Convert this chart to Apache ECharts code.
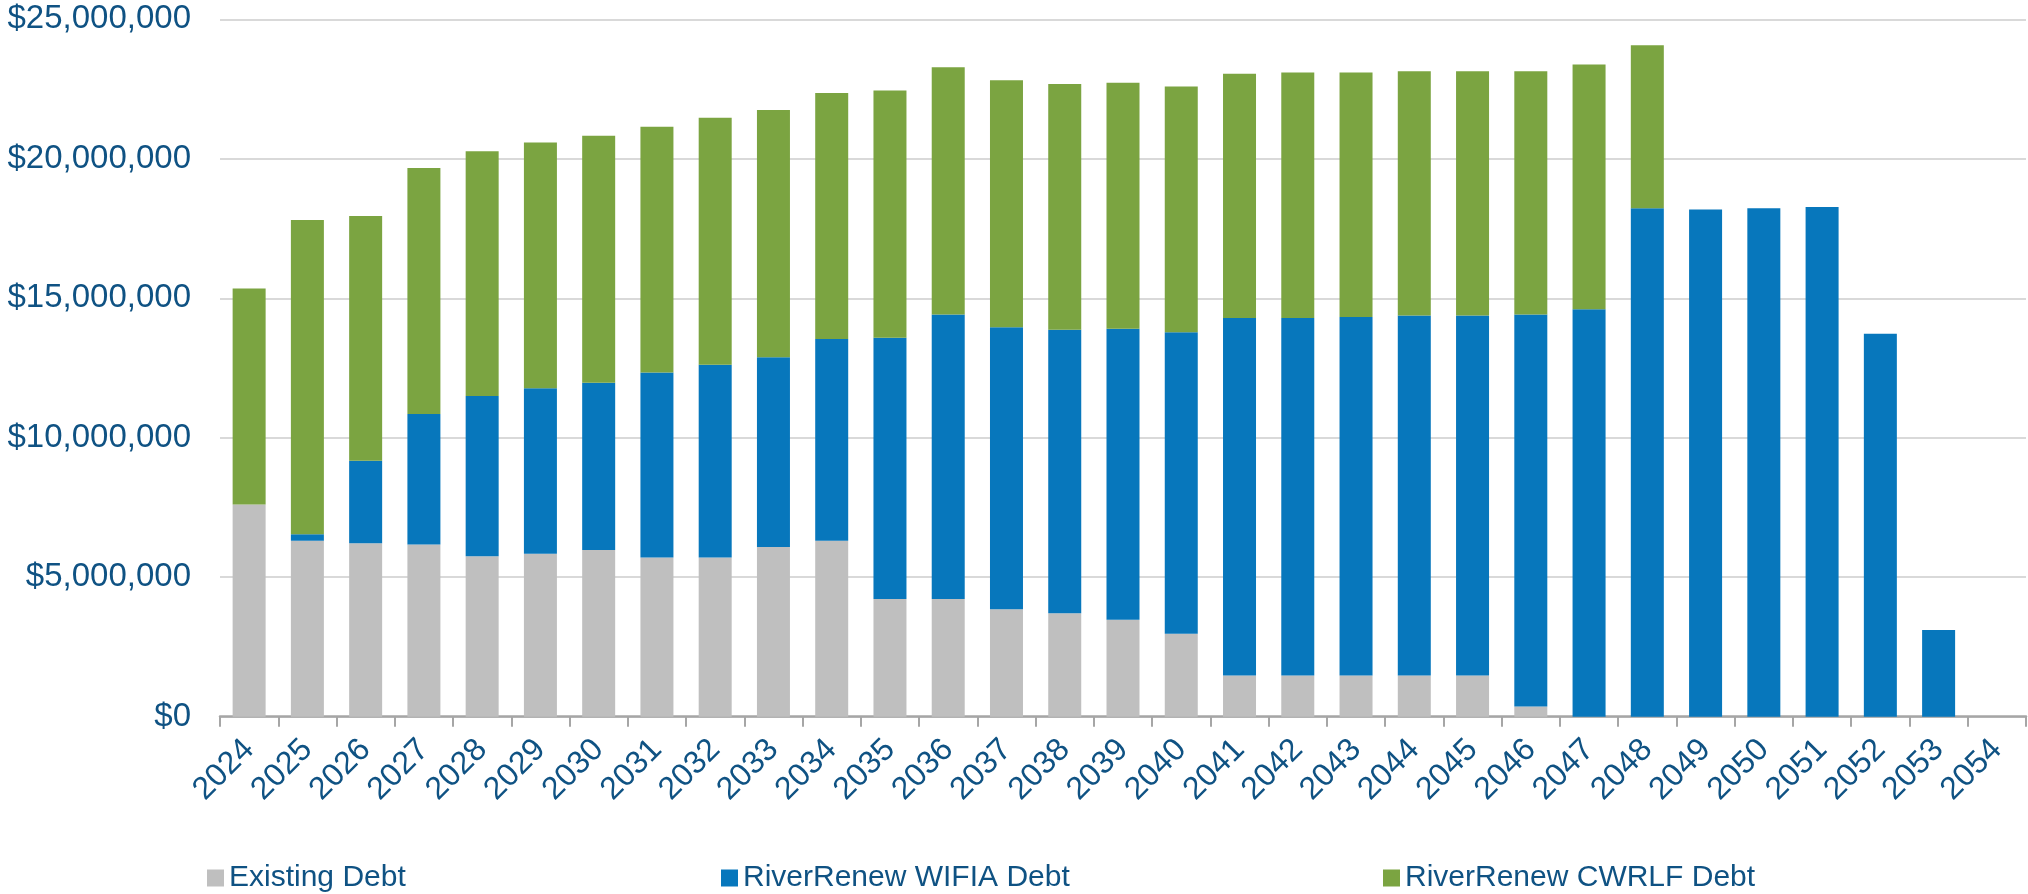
<!DOCTYPE html>
<html>
<head>
<meta charset="utf-8">
<script src="https://cdn.jsdelivr.net/npm/echarts@6/dist/echarts.min.js"></script>
<style>
  html, body { margin: 0; padding: 0; background: #fff; }
  #main { width: 2028px; height: 894px; }
</style>
</head>
<body>
<div id="main"></div>
<script>
// years on the x axis
const years = [
  "2024", "2025", "2026", "2027", "2028", "2029", "2030", "2031", "2032", "2033",
  "2034", "2035", "2036", "2037", "2038", "2039", "2040", "2041", "2042", "2043",
  "2044", "2045", "2046", "2047", "2048", "2049", "2050", "2051", "2052", "2053", "2054",
];

// debt service per year, dollars
const existingDebt = [
  7610000, 6310000, 6220000, 6170000, 5750000, 5840000, 5980000, 5710000, 5710000, 6080000,
  6310000, 4220000, 4220000, 3850000, 3710000, 3480000, 2970000, 1480000, 1480000, 1480000,
  1480000, 1480000, 370000, 0, 0, 0, 0, 0, 0, 0, 0,
];
const wifiaDebt = [
  0, 230000, 2960000, 4680000, 5750000, 5940000, 5990000, 6630000, 6910000, 6810000,
  7230000, 9370000, 10200000, 10110000, 10160000, 10430000, 10810000, 12810000, 12810000, 12850000,
  12900000, 12900000, 14050000, 14610000, 18230000, 18180000, 18230000, 18270000, 13730000, 3110000, 0,
];
const cwrlfDebt = [
  7740000, 11270000, 8770000, 8820000, 8770000, 8810000, 8860000, 8810000, 8850000, 8860000,
  8820000, 8860000, 8860000, 8860000, 8810000, 8820000, 8810000, 8760000, 8810000, 8770000,
  8760000, 8760000, 8720000, 8770000, 5840000, 0, 0, 0, 0, 0, 0,
];

const seriesNames = ["Existing Debt", "RiverRenew WIFIA Debt", "RiverRenew CWRLF Debt"];
const seriesColors = ["#bfbfbf", "#0777bc", "#7ba441"];
const textColor = "#0f5283";
const fontName = "Liberation Sans";

var chart = echarts.init(document.getElementById("main"));

function money(v) {
  return "$" + Math.round(v).toString().replace(/\B(?=(\d{3})+(?!\d))/g, ",");
}

const legendLefts = [202, 716, 1378];

var option = {
  backgroundColor: "#ffffff",
  animation: false,
  grid: { left: 220, right: 2, top: 19.4, bottom: 177.3, containLabel: false },
  legend: seriesNames.map((name, i) => ({
    data: [name],
    left: legendLefts[i],
    top: 858,
    icon: "rect",
    itemWidth: 17,
    itemHeight: 17,
    itemGap: 0,
    textStyle: { color: textColor, fontSize: 30, fontFamily: fontName },
  })),
  xAxis: {
    type: "category",
    data: years,
    axisLine: { lineStyle: { color: "#a6a6a6", width: 2.5 } },
    axisTick: { show: true, length: 10, lineStyle: { color: "#a6a6a6", width: 2 } },
    axisLabel: {
      rotate: 45,
      margin: 28,
      interval: 0,
      color: textColor,
      fontSize: 32,
      fontFamily: fontName,
    },
  },
  yAxis: {
    type: "value",
    min: 0,
    max: 25000000,
    interval: 5000000,
    axisLine: { show: false },
    axisTick: { show: false },
    splitLine: { lineStyle: { color: "#d9d9d9", width: 2 } },
    axisLabel: {
      margin: 29,
      color: textColor,
      fontSize: 33,
      fontFamily: fontName,
      formatter: money,
    },
  },
  series: [existingDebt, wifiaDebt, cwrlfDebt].map((vals, i) => ({
    name: seriesNames[i],
    type: "bar",
    stack: "debt",
    data: vals,
    barWidth: 33,
    itemStyle: { color: seriesColors[i] },
  })),
};

chart.setOption(option);
</script>
</body>
</html>
